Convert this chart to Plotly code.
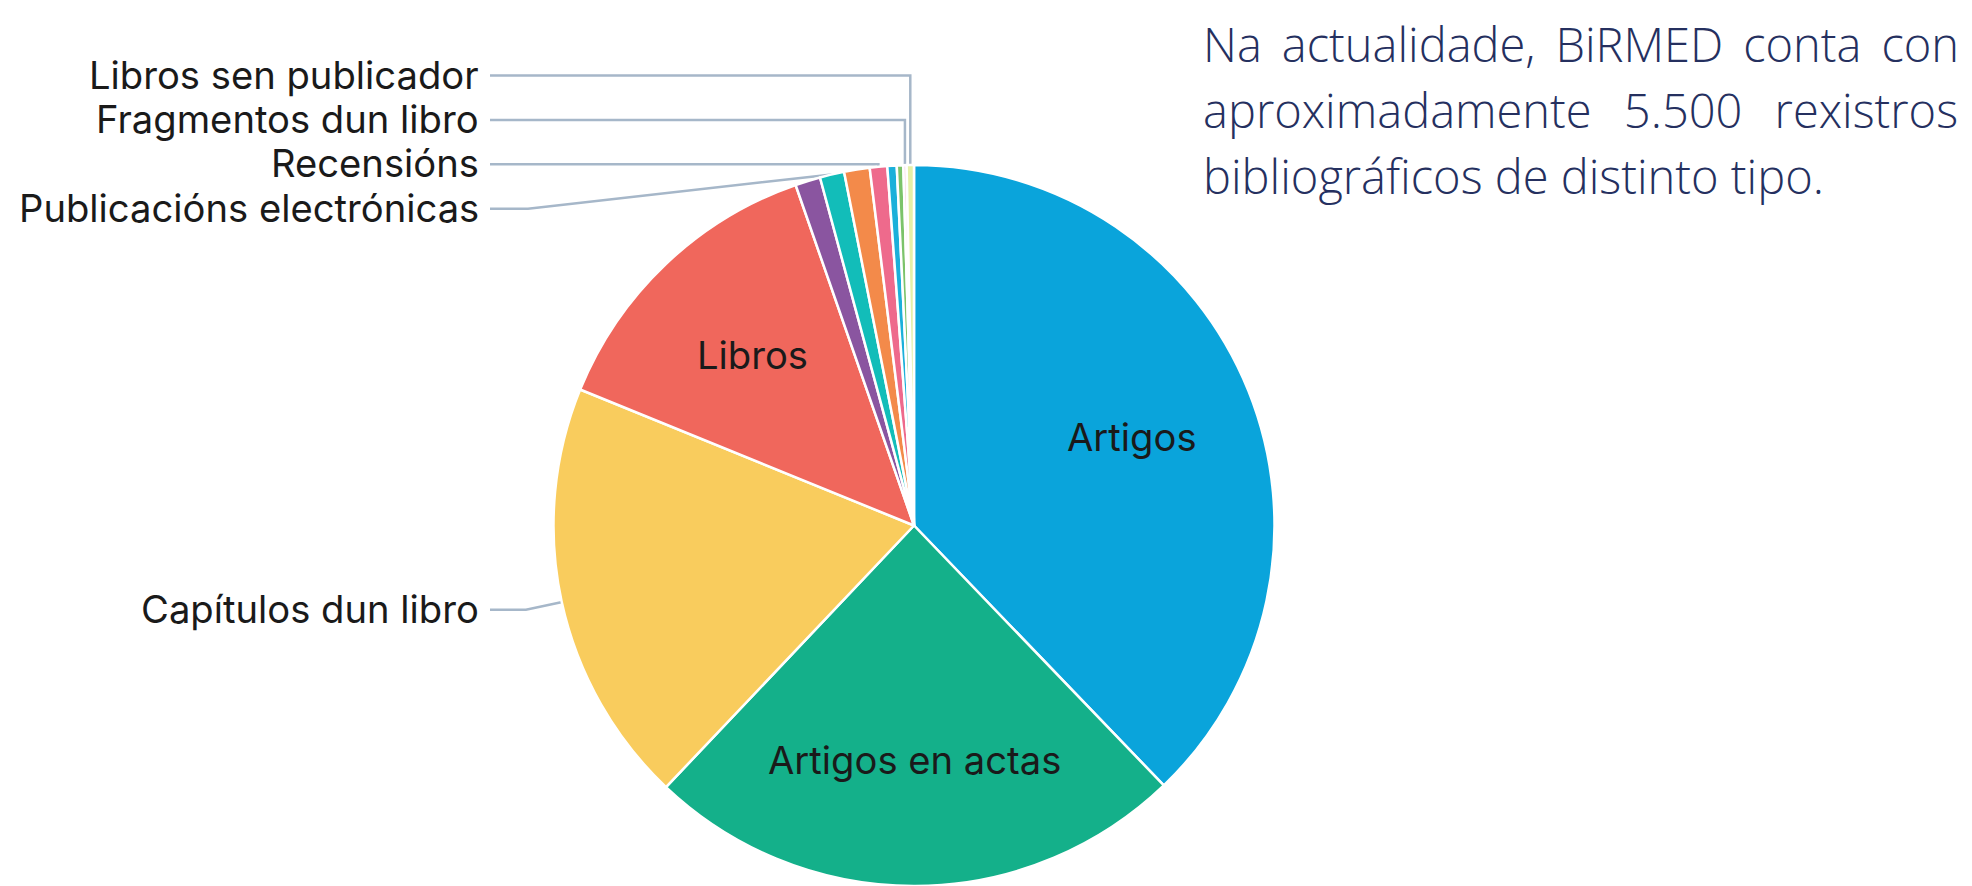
import math
import plotly.graph_objects as go

# ---------------- data ----------------
categories = [
    "Artigos", "Artigos en actas", "Capítulos dun libro", "Libros",
    "Outros tipos 1", "Publicacións electrónicas", "Outros tipos 2", "Recensións",
    "Outros tipos 3", "Outros tipos 4", "Fragmentos dun libro", "Libros sen publicador",
]
values = [2081, 1335, 1050, 744, 62, 60, 63, 43, 23, 16, 8, 18]
colors = [
    "#0AA4DB", "#14B08A", "#F9CC5D", "#F0675C",
    "#8A55A0", "#12BDB9", "#F38A4A", "#EE6A8C",
    "#1BB0DA", "#7CC36A", "#F6C9DA", "#E6F0A8",
]
inside_labels = ["Artigos", "Artigos en actas", "Libros"]
outside_labels = ["Capítulos dun libro", "Publicacións electrónicas", "Recensións",
                  "Fragmentos dun libro", "Libros sen publicador"]
intro_line1_words = ["Na", "actualidade,", "BiRMED", "conta", "con"]
intro_line2_words = ["aproximadamente", "5.500", "rexistros"]
intro_line3 = "bibliográficos de distinto tipo."

# ---------------- layout constants ----------------
W, H = 1972, 886
CX, CY, R = 914, 526, 361
LABEL_FONT = dict(family="Inter, Roboto, 'Noto Sans', sans-serif", size=38.2, color="#1a1a1a")
LINE_COLOR = "#A6B7C9"
LINE_END_X = 490
TEXT_RIGHT_X = 481
TOP_ROW_Y0 = 75.5
ROW_STEP = 44.4
top_rows = {"Libros sen publicador": 0, "Fragmentos dun libro": 1,
            "Recensións": 2, "Publicacións electrónicas": 3}
elbow_x = {"Publicacións electrónicas": 528}
RADIAL_LEN = 36
INSIDE_FRAC = 0.65

total = sum(values)
mid_angle = {}
acc = 0
for c, v in zip(categories, values):
    a0 = acc / total * 360
    acc += v
    a1 = acc / total * 360
    mid_angle[c] = (a0 + a1) / 2


def pt(angle, rad):
    t = math.radians(angle)
    return CX + rad * math.sin(t), CY - rad * math.cos(t)


fig = go.Figure()

fig.update_layout(
    xaxis=dict(range=[0, W], visible=False, domain=[0, 1], fixedrange=True),
    yaxis=dict(range=[H, 0], visible=False, domain=[0, 1], fixedrange=True),
)

fig.add_trace(go.Pie(
    labels=categories,
    values=values,
    sort=False,
    direction="clockwise",
    rotation=0,
    marker=dict(colors=colors, line=dict(color="white", width=2.5)),
    textinfo="none",
    hoverinfo="label+value+percent",
    showlegend=False,
    domain=dict(x=[(CX - R) / W, (CX + R) / W], y=[max(0, (H - CY - R) / H), (H - CY + R) / H]),
))

annotations = []
for name in inside_labels:
    x, y = pt(mid_angle[name], INSIDE_FRAC * R)
    annotations.append(dict(x=x, y=y - 1, xref="x", yref="y", text=name, showarrow=False,
                            font=LABEL_FONT, xanchor="center", yanchor="middle"))

for name in outside_labels:
    ang = mid_angle[name]
    ax, ay = pt(ang, R)
    if name in top_rows:
        ly = TOP_ROW_Y0 + ROW_STEP * top_rows[name]
        bx = elbow_x.get(name, ax)
        by = ly
    else:
        bx, by = pt(ang, R + RADIAL_LEN)
        ly = by
    fig.add_trace(go.Scatter(
        x=[ax, bx, LINE_END_X], y=[ay, by, ly], mode="lines",
        line=dict(color=LINE_COLOR, width=2.5), hoverinfo="skip", showlegend=False,
    ))
    annotations.append(dict(x=TEXT_RIGHT_X, y=ly - 1, xref="x", yref="y", text=name, showarrow=False,
                            font=LABEL_FONT, xanchor="right", yanchor="middle"))

INTRO_FONT = dict(family="'Open Sans', sans-serif", size=47, color="#25305F", weight=300)
INTRO_X0 = 1201
GAP1 = "\u00a0\u2009"
GAP2 = "\u00a0\u00a0\u2009"
annotations.append(dict(x=INTRO_X0, y=44, xref="x", yref="y", text=GAP1.join(intro_line1_words),
                        showarrow=False, font=INTRO_FONT, xanchor="left", yanchor="middle"))
annotations.append(dict(x=INTRO_X0, y=110, xref="x", yref="y", text=GAP2.join(intro_line2_words),
                        showarrow=False, font=INTRO_FONT, xanchor="left", yanchor="middle"))
annotations.append(dict(x=INTRO_X0, y=176, xref="x", yref="y", text=intro_line3, showarrow=False,
                        font=INTRO_FONT, xanchor="left", yanchor="middle"))

fig.update_layout(
    width=W, height=H,
    margin=dict(l=0, r=0, t=0, b=0),
    paper_bgcolor="white", plot_bgcolor="white",
    annotations=annotations,
    showlegend=False,
)

fig.write_html("out.html", config={"displayModeBar": False},
               post_script="document.body.style.margin='0';document.body.style.overflow='hidden';")
